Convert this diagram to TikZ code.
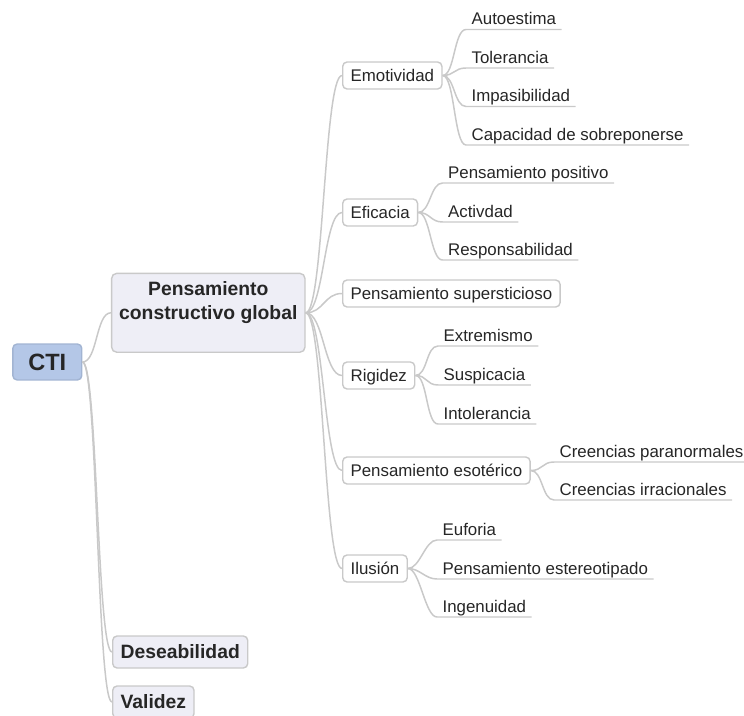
\documentclass[tikz,border=0pt]{standalone}
\usepackage{fontspec}
\setmainfont{Liberation Sans}
\usepackage{tikz}
\definecolor{sora}{HTML}{B4C7E7}
\definecolor{sorasen}{HTML}{A2B4D2}
\definecolor{kumo}{HTML}{EEEEF6}
\definecolor{hai}{HTML}{C9C9C9}
\definecolor{sumi}{HTML}{262626}

\tikzset{
    rama/.style={draw=hai, line width=0.85pt},
    caja/.style={draw=hai, line width=0.8pt, rounded corners=2.5pt, text=sumi},
    raiz/.style={caja, fill=sora, draw=sorasen, minimum width=1.38cm, minimum height=0.72cm,
        font=\fontsize{13.4}{16}\selectfont\bfseries},
    centro/.style={caja, fill=kumo, minimum width=3.87cm, minimum height=1.58cm, align=center,
        rounded corners=3pt, font=\fontsize{11}{13.6}\selectfont\bfseries},
    lado/.style={caja, fill=kumo, minimum height=0.64cm, inner xsep=4.5pt,
        text height=7.9pt, text depth=0pt, font=\fontsize{11}{13.6}\selectfont\bfseries},
    tema/.style={caja, fill=white, minimum height=0.54cm, inner xsep=4.5pt,
        text height=6.9pt, text depth=0pt, font=\fontsize{9.6}{11.5}\selectfont},
    hoja/.style={anchor=south west, inner xsep=3pt, inner ysep=0pt, text=sumi,
        text depth=2.6pt, font=\fontsize{9.6}{11.5}\selectfont}
}

\begin{document}
\begin{tikzpicture}[x=0.02cm, y=-0.02cm]
    \useasboundingbox (0, 0) rectangle (744, 716);

    \node[raiz] (cti) at (47.3, 362) {CTI};
    \node[centro] (pcg) at (208.3, 312.8) {Pensamiento\\constructivo global\\\mbox{}};
    \node[lado, anchor=west] (des) at (112, 652) {Deseabilidad};
    \node[lado, anchor=west] (val) at (112, 702) {Validez};

    \foreach \n in {pcg, des, val}
        \draw[rama] (cti.east) .. controls +(15, 0) and +(-15, 0) .. (\n.west);

    % ramas del pensamiento constructivo
    \foreach \n / \y / \t in {emo/75.5/Emotividad, efi/212.5/Eficacia, sup/293.5/Pensamiento supersticioso,
            rig/375.5/Rigidez, eso/470.5/Pensamiento esotérico, ilu/568.5/Ilusión}
        \node[tema, anchor=west] (\n) at (342, \y) {\t};
    \foreach \n in {emo, efi, sup, rig, eso, ilu}
        \draw[rama] (pcg.east) .. controls +(18, 0) and +(-18, 0) .. (\n.west);

    % hojas
    \foreach \y / \t [count=\i] in {29.5/Autoestima, 68/Tolerancia, 106.5/Impasibilidad, 145/Capacidad de sobreponerse} {
        \node[hoja] (emo-\i) at (466, \y) {\t};
        \draw[rama] (emo.east) .. controls +(12, 0) and +(-12, 0) .. (emo-\i.south west) -- (emo-\i.south east);
    }
    \foreach \y / \t [count=\i] in {183/Pensamiento positivo, 222/Activdad, 260/Responsabilidad} {
        \node[hoja] (efi-\i) at (442.5, \y) {\t};
        \draw[rama] (efi.east) .. controls +(12, 0) and +(-12, 0) .. (efi-\i.south west) -- (efi-\i.south east);
    }
    \foreach \y / \t [count=\i] in {346/Extremismo, 385/Suspicacia, 424/Intolerancia} {
        \node[hoja] (rig-\i) at (438, \y) {\t};
        \draw[rama] (rig.east) .. controls +(12, 0) and +(-12, 0) .. (rig-\i.south west) -- (rig-\i.south east);
    }
    \foreach \y / \t [count=\i] in {462/Creencias paranormales, 500/Creencias irracionales} {
        \node[hoja] (eso-\i) at (554, \y) {\t};
        \draw[rama] (eso.east) .. controls +(12, 0) and +(-12, 0) .. (eso-\i.south west) -- (eso-\i.south east);
    }
    \foreach \y / \t [count=\i] in {540/Euforia, 579/Pensamiento estereotipado, 617/Ingenuidad} {
        \node[hoja] (ilu-\i) at (437, \y) {\t};
        \draw[rama] (ilu.east) .. controls +(12, 0) and +(-12, 0) .. (ilu-\i.south west) -- (ilu-\i.south east);
    }

\end{tikzpicture}
\end{document}
